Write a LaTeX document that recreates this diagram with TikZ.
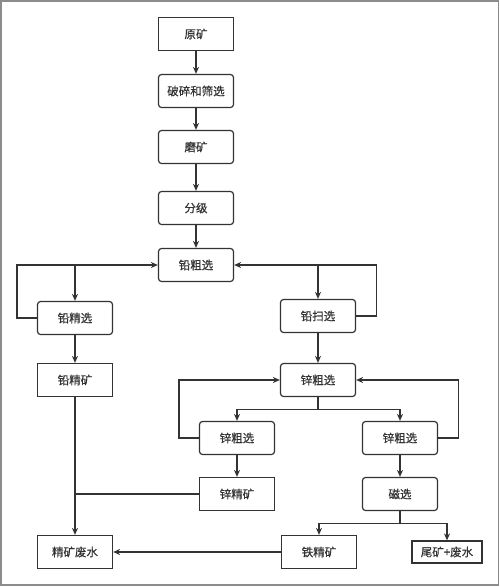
\documentclass[tikz,border=0pt]{standalone}
\usepackage{fontspec}
\newfontfamily\cjk[FakeBold=0.7]{Noto Sans CJK SC}
\usetikzlibrary{arrows.meta}

\begin{document}
\begin{tikzpicture}[
        x=1pt, y=-1pt,
        >={Stealth[length=7pt, width=6pt]},
        line/.style={draw=black!80, line width=1.2pt},
        proc/.style={line, rounded corners=3pt, minimum width=75pt, minimum height=33pt,
            inner sep=0pt, text=black!80, font=\cjk\fontsize{11.5}{13}\selectfont},
        prod/.style={proc, rounded corners=0pt},
        flow/.style={line, ->}
    ]

% Рамка
        \useasboundingbox (0,0) rectangle (500,587);
        \draw[black!45, line width=1.5pt] (0.75,0.75) rectangle (498.5,585);

% Подготовка руды
        \node[prod] (ore) at (196,34) {原矿};
        \node[proc] (crush) at (196,91) {破碎和筛选};
        \node[proc] (grind) at (196,147) {磨矿};
        \node[proc] (classify) at (196,208) {分级};

% Свинцовый цикл
        \node[proc] (pbrough) at (196,265) {铅粗选};
        \node[proc] (pbclean) at (75,318) {铅精选};
        \node[proc] (pbscav) at (318,316) {铅扫选};
        \node[prod] (pbconc) at (75,380) {铅精矿};

% Цинковый цикл
        \node[proc] (znrough) at (318,380) {锌粗选};
        \node[proc] (znleft) at (237,438) {锌粗选};
        \node[proc] (znright) at (400,438) {锌粗选};
        \node[prod] (znconc) at (237,494) {锌精矿};
        \node[proc] (magsep) at (400,494) {磁选};

% Продукты
        \node[prod] (concwater) at (75,552) {精矿废水};
        \node[prod] (feconc) at (319,552) {铁精矿};
        \node[prod, minimum width=70pt, minimum height=22pt] (tail) at (447,552) {尾矿+废水};

% Основной поток
        \draw[flow] (ore) -- (crush);
        \draw[flow] (crush) -- (grind);
        \draw[flow] (grind) -- (classify);
        \draw[flow] (classify) -- (pbrough);

% Обратные связи свинца
        \draw[flow] (pbclean.west) -- ++(-20,0) |- (pbrough.west);
        \coordinate (pbsplitl) at (pbclean.north |- pbrough.west);
        \draw[flow] (pbsplitl) -- (pbclean.north);
        \draw[flow] (pbscav.east) -- ++(20,0) |- (pbrough.east);
        \coordinate (pbsplitr) at (pbscav.north |- pbrough.east);
        \draw[flow] (pbsplitr) -- (pbscav.north);
        \draw[flow] (pbclean) -- (pbconc);
        \draw[flow] (pbscav) -- (znrough);

% Обратные связи цинка
        \draw[flow] (znleft.west) -- ++(-20,0) |- (znrough.west);
        \draw[flow] (znright.east) -- ++(20,0) |- (znrough.east);
        \draw[line] (znrough.south) -- ++(0,12) coordinate (znsplit);
        \draw[flow] (znsplit) -| (znleft.north);
        \draw[flow] (znsplit) -| (znright.north);
        \draw[flow] (znleft) -- (znconc);
        \draw[flow] (znright) -- (magsep);

% Концентраты и хвосты
        \draw[line] (znconc.west) -- (pbconc.south |- znconc.west);
        \draw[flow] (pbconc) -- (concwater);
        \draw[line] (magsep.south) -- ++(0,12) coordinate (magsplit);
        \draw[flow] (magsplit) -| (feconc.north);
        \draw[flow] (magsplit) -| (tail.north);
        \draw[flow] (feconc) -- (concwater);
    \end{tikzpicture}
\end{document}
